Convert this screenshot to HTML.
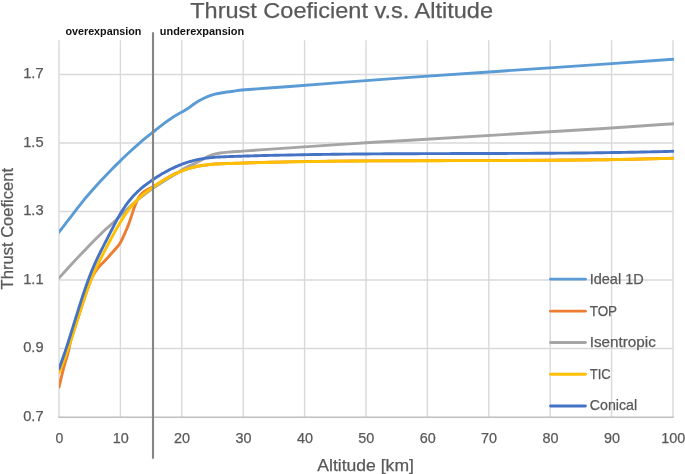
<!DOCTYPE html>
<html><head><meta charset="utf-8"><title>Thrust Coeficient v.s. Altitude</title>
<style>
html,body{margin:0;padding:0;background:#fff;width:685px;height:474px;overflow:hidden}
svg{display:block}
.g{stroke:#d9d9d9;stroke-width:1.4;fill:none}
.ax{stroke:#bebebe;stroke-width:1.5;fill:none}
.s{fill:none;stroke-width:2.9;stroke-linecap:round;stroke-linejoin:round}
text{font-family:"Liberation Sans",Arial,sans-serif;fill:#595959;stroke:#595959;stroke-width:0.25px}
.t{font-size:15px}
.lg{font-size:14.4px}
.ttl{font-size:22.9px}
.at{font-size:16.6px}
.lb{font-size:11.6px;font-weight:bold;fill:#111;stroke:none}
</style></head><body>
<svg width="685" height="474" viewBox="0 0 685 474">
<defs><clipPath id="pc"><rect x="59" y="0" width="615" height="474"/></clipPath></defs>
<rect width="685" height="474" fill="#fff"/>
<g><line x1="59.00" y1="40.2" x2="59.00" y2="417" class="g"/>
<line x1="120.40" y1="40.2" x2="120.40" y2="417" class="g"/>
<line x1="181.80" y1="40.2" x2="181.80" y2="417" class="g"/>
<line x1="243.20" y1="40.2" x2="243.20" y2="417" class="g"/>
<line x1="304.60" y1="40.2" x2="304.60" y2="417" class="g"/>
<line x1="366.00" y1="40.2" x2="366.00" y2="417" class="g"/>
<line x1="427.40" y1="40.2" x2="427.40" y2="417" class="g"/>
<line x1="488.80" y1="40.2" x2="488.80" y2="417" class="g"/>
<line x1="550.20" y1="40.2" x2="550.20" y2="417" class="g"/>
<line x1="611.60" y1="40.2" x2="611.60" y2="417" class="g"/>
<line x1="673.00" y1="40.2" x2="673.00" y2="417" class="g"/>
<line x1="59" y1="348.50" x2="673" y2="348.50" class="g"/>
<line x1="59" y1="280.00" x2="673" y2="280.00" class="g"/>
<line x1="59" y1="211.50" x2="673" y2="211.50" class="g"/>
<line x1="59" y1="143.00" x2="673" y2="143.00" class="g"/>
<line x1="59" y1="74.50" x2="673" y2="74.50" class="g"/>
<line x1="58.3" y1="417.15" x2="673.7" y2="417.15" class="ax"/></g>
<g><path d="M59.00,232.00 C60.08,230.62 62.83,227.13 65.50,223.70 C68.17,220.27 71.88,215.42 75.00,211.40 C78.12,207.38 81.62,202.78 84.20,199.60 C86.78,196.42 87.68,195.47 90.50,192.30 C93.32,189.13 97.58,184.40 101.10,180.60 C104.62,176.80 108.43,172.75 111.60,169.50 C114.77,166.25 117.28,163.85 120.10,161.10 C122.92,158.35 125.22,156.05 128.50,153.00 C131.78,149.95 136.68,145.52 139.80,142.80 C142.92,140.08 145.00,138.47 147.20,136.70 C149.40,134.93 151.30,133.53 153.00,132.20 C154.70,130.87 155.43,130.25 157.40,128.70 C159.37,127.15 162.33,124.73 164.80,122.90 C167.27,121.07 169.75,119.30 172.20,117.70 C174.65,116.10 177.90,114.23 179.50,113.30 C181.10,112.37 180.87,112.62 181.80,112.10 C182.73,111.58 183.82,110.98 185.10,110.20 C186.38,109.42 188.02,108.43 189.50,107.40 C190.98,106.37 192.25,105.18 194.00,104.00 C195.75,102.82 197.55,101.60 200.00,100.30 C202.45,99.00 206.20,97.22 208.70,96.20 C211.20,95.18 212.72,94.77 215.00,94.20 C217.28,93.63 219.40,93.28 222.40,92.80 C225.40,92.32 229.23,91.80 233.00,91.30 C236.77,90.80 235.50,90.60 245.00,89.80 C254.50,89.00 275.83,87.57 290.00,86.50 C304.17,85.43 317.33,84.38 330.00,83.40 C342.67,82.42 352.67,81.60 366.00,80.60 C379.33,79.60 387.67,78.97 410.00,77.40 C432.33,75.83 466.40,73.50 500.00,71.20 C533.60,68.90 582.77,65.58 611.60,63.60 C640.43,61.62 662.77,60.02 673.00,59.30" stroke="#5B9BD5" class="s" clip-path="url(#pc)"/>
<path d="M59.00,387.20 C59.50,385.08 61.07,378.28 62.00,374.50 C62.93,370.72 63.67,367.83 64.60,364.50 C65.53,361.17 66.53,358.59 67.60,354.50 C68.67,350.41 69.93,343.97 71.00,339.99 C72.07,336.01 73.00,333.78 74.00,330.64 C75.00,327.50 76.00,324.31 77.00,321.16 C78.00,318.00 79.00,314.82 80.00,311.70 C81.00,308.58 82.00,305.47 83.00,302.45 C84.00,299.42 85.00,296.43 86.00,293.56 C87.00,290.68 88.00,287.87 89.00,285.20 C90.00,282.53 90.57,280.34 92.00,277.54 C93.43,274.74 95.92,270.72 97.60,268.40 C99.28,266.08 100.70,265.08 102.10,263.60 C103.50,262.12 104.70,260.90 106.00,259.50 C107.30,258.10 108.52,256.73 109.90,255.20 C111.28,253.67 112.93,251.85 114.30,250.30 C115.67,248.75 117.03,247.27 118.10,245.90 C119.17,244.53 119.85,243.58 120.70,242.10 C121.55,240.62 122.42,238.68 123.20,237.00 C123.98,235.32 124.67,233.68 125.40,232.00 C126.13,230.32 126.90,228.65 127.60,226.90 C128.30,225.15 128.97,223.27 129.60,221.50 C130.23,219.73 130.67,218.50 131.40,216.30 C132.13,214.10 133.18,210.62 134.00,208.30 C134.82,205.98 135.55,204.15 136.30,202.40 C137.05,200.65 137.52,199.32 138.50,197.80 C139.48,196.28 140.97,194.52 142.20,193.30 C143.43,192.08 144.60,191.33 145.90,190.50 C147.20,189.67 148.82,188.88 150.00,188.30 C151.18,187.72 152.00,187.60 153.00,187.05 C154.00,186.50 154.83,185.78 156.00,185.00 C157.17,184.22 158.50,183.33 160.00,182.38 C161.50,181.43 163.33,180.29 165.00,179.30 C166.67,178.31 168.17,177.44 170.00,176.46 C171.83,175.48 174.00,174.35 176.00,173.41 C178.00,172.46 179.67,171.68 182.00,170.78 C184.33,169.89 187.00,168.86 190.00,168.02 C193.00,167.18 196.67,166.33 200.00,165.74 C203.33,165.14 206.67,164.78 210.00,164.45 C213.33,164.13 215.83,164.00 220.00,163.80 C224.17,163.60 230.00,163.42 235.00,163.25 C240.00,163.08 244.17,162.94 250.00,162.78 C255.83,162.61 261.67,162.44 270.00,162.25 C278.33,162.05 286.67,161.84 300.00,161.63 C313.33,161.41 333.33,161.14 350.00,160.98 C366.67,160.82 375.00,160.76 400.00,160.68 C425.00,160.60 466.67,160.64 500.00,160.48 C533.33,160.32 571.17,160.13 600.00,159.74 C628.83,159.35 660.83,158.39 673.00,158.12" stroke="#ED7D31" class="s" clip-path="url(#pc)"/>
<path d="M59.00,278.10 C60.93,275.97 66.92,269.30 70.60,265.30 C74.28,261.30 77.58,257.80 81.10,254.10 C84.62,250.40 88.55,246.32 91.70,243.10 C94.85,239.88 97.53,237.23 100.00,234.80 C102.47,232.37 104.23,230.58 106.50,228.50 C108.77,226.42 110.52,225.18 113.60,222.30 C116.68,219.42 121.43,214.58 125.00,211.20 C128.57,207.82 131.67,204.87 135.00,202.00 C138.33,199.13 142.00,196.28 145.00,194.00 C148.00,191.72 149.67,190.53 153.00,188.30 C156.33,186.07 161.33,182.88 165.00,180.60 C168.67,178.32 172.25,176.33 175.00,174.60 C177.75,172.87 179.33,171.53 181.50,170.20 C183.67,168.87 185.82,167.70 188.00,166.60 C190.18,165.50 192.60,164.57 194.60,163.60 C196.60,162.63 198.28,161.72 200.00,160.80 C201.72,159.88 202.92,159.10 204.90,158.10 C206.88,157.10 209.37,155.65 211.90,154.80 C214.43,153.95 217.08,153.47 220.10,153.00 C223.12,152.53 226.17,152.32 230.00,152.00 C233.83,151.68 238.10,151.45 243.10,151.10 C248.10,150.75 245.52,150.90 260.00,149.90 C274.48,148.90 312.33,146.28 330.00,145.10 C347.67,143.92 352.67,143.62 366.00,142.80 C379.33,141.98 371.00,142.55 410.00,140.20 C449.00,137.85 556.17,131.45 600.00,128.70 C643.83,125.95 660.83,124.53 673.00,123.70" stroke="#A5A5A5" class="s" clip-path="url(#pc)"/>
<path d="M59.00,372.50 C59.25,371.92 60.00,370.24 60.50,369.05 C61.00,367.86 61.50,366.64 62.00,365.38 C62.50,364.12 63.00,362.83 63.50,361.51 C64.00,360.18 64.50,358.83 65.00,357.45 C65.50,356.07 66.00,354.66 66.50,353.24 C67.00,351.81 67.50,350.35 68.00,348.88 C68.50,347.41 69.00,345.92 69.50,344.41 C70.00,342.90 70.50,341.38 71.00,339.84 C71.50,338.30 72.00,336.75 72.50,335.19 C73.00,333.64 73.50,332.06 74.00,330.49 C74.50,328.92 75.00,327.34 75.50,325.76 C76.00,324.18 76.50,322.59 77.00,321.01 C77.50,319.42 78.00,317.84 78.50,316.26 C79.00,314.69 79.50,313.11 80.00,311.55 C80.50,309.99 81.00,308.43 81.50,306.89 C82.00,305.35 82.50,303.81 83.00,302.30 C83.50,300.78 84.00,299.28 84.50,297.80 C85.00,296.31 85.50,294.85 86.00,293.41 C86.50,291.97 87.00,290.54 87.50,289.15 C88.00,287.76 88.50,286.39 89.00,285.05 C89.50,283.71 90.00,282.40 90.50,281.13 C91.00,279.85 91.50,278.61 92.00,277.39 C92.50,276.18 93.00,275.00 93.50,273.84 C94.00,272.68 94.50,271.55 95.00,270.43 C95.50,269.32 96.00,268.24 96.50,267.17 C97.00,266.10 97.50,265.05 98.00,264.02 C98.50,262.99 99.00,261.97 99.50,260.97 C100.00,259.96 100.50,258.98 101.00,257.99 C101.50,257.01 102.00,256.04 102.50,255.07 C103.00,254.10 103.50,253.15 104.00,252.19 C104.50,251.23 105.00,250.27 105.50,249.32 C106.00,248.36 106.50,247.40 107.00,246.45 C107.50,245.50 108.00,244.54 108.50,243.59 C109.00,242.64 109.50,241.69 110.00,240.75 C110.50,239.80 111.00,238.86 111.50,237.92 C112.00,236.99 112.50,236.06 113.00,235.13 C113.50,234.21 114.00,233.29 114.50,232.38 C115.00,231.47 115.50,230.57 116.00,229.67 C116.50,228.78 117.00,227.89 117.50,227.02 C118.00,226.15 118.50,225.28 119.00,224.43 C119.50,223.58 120.00,222.74 120.50,221.91 C121.00,221.08 121.50,220.26 122.00,219.46 C122.50,218.66 123.00,217.88 123.50,217.11 C124.00,216.34 124.50,215.58 125.00,214.84 C125.50,214.11 126.00,213.38 126.50,212.68 C127.00,211.98 127.50,211.29 128.00,210.62 C128.50,209.95 129.00,209.30 129.50,208.66 C130.00,208.03 130.50,207.40 131.00,206.80 C131.50,206.19 132.00,205.60 132.50,205.02 C133.00,204.45 133.50,203.88 134.00,203.33 C134.50,202.78 135.00,202.25 135.50,201.72 C136.00,201.20 136.50,200.69 137.00,200.19 C137.50,199.69 138.00,199.20 138.50,198.72 C139.00,198.25 139.50,197.78 140.00,197.32 C140.50,196.87 141.00,196.42 141.50,195.98 C142.00,195.54 142.50,195.12 143.00,194.69 C143.50,194.27 144.00,193.86 144.50,193.46 C145.00,193.05 145.50,192.66 146.00,192.27 C146.50,191.88 147.00,191.49 147.50,191.11 C148.00,190.73 148.50,190.36 149.00,190.00 C149.50,189.63 150.00,189.27 150.50,188.91 C151.00,188.55 151.50,188.20 152.00,187.84 C152.50,187.49 153.00,187.15 153.50,186.80 C154.00,186.46 154.50,186.11 155.00,185.77 C155.50,185.43 156.00,185.10 156.50,184.76 C157.00,184.43 157.50,184.10 158.00,183.77 C158.50,183.44 159.00,183.12 159.50,182.80 C160.00,182.48 160.50,182.16 161.00,181.84 C161.50,181.53 162.00,181.22 162.50,180.91 C163.00,180.60 163.50,180.30 164.00,180.00 C164.50,179.69 165.00,179.40 165.50,179.10 C166.00,178.81 166.50,178.52 167.00,178.23 C167.50,177.95 168.00,177.66 168.50,177.38 C169.00,177.11 169.50,176.83 170.00,176.56 C170.50,176.29 171.00,176.02 171.50,175.76 C172.00,175.50 172.50,175.24 173.00,174.98 C173.50,174.73 174.00,174.48 174.50,174.23 C175.00,173.99 175.50,173.74 176.00,173.51 C176.50,173.27 177.00,173.04 177.50,172.81 C178.00,172.58 178.50,172.36 179.00,172.14 C179.50,171.92 180.00,171.71 180.50,171.50 C181.00,171.29 181.50,171.08 182.00,170.88 C182.50,170.68 183.00,170.49 183.50,170.30 C184.00,170.11 184.50,169.92 185.00,169.74 C185.50,169.56 186.00,169.39 186.50,169.22 C187.00,169.05 187.50,168.89 188.00,168.73 C188.50,168.57 189.00,168.42 189.50,168.27 C190.00,168.12 190.50,167.98 191.00,167.84 C191.50,167.70 192.00,167.57 192.50,167.44 C193.00,167.31 193.50,167.18 194.00,167.07 C194.50,166.95 195.00,166.83 195.50,166.72 C196.00,166.61 196.50,166.50 197.00,166.40 C197.50,166.30 198.00,166.20 198.50,166.11 C199.00,166.02 199.50,165.93 200.00,165.84 C200.50,165.75 201.00,165.67 201.50,165.59 C202.00,165.51 202.50,165.44 203.00,165.37 C203.50,165.29 204.00,165.22 204.50,165.16 C205.00,165.09 205.50,165.03 206.00,164.97 C206.50,164.91 207.00,164.85 207.50,164.80 C208.00,164.75 208.50,164.70 209.00,164.65 C209.50,164.60 210.00,164.55 210.50,164.51 C211.00,164.46 211.50,164.42 212.00,164.38 C212.50,164.34 213.00,164.31 213.50,164.27 C214.00,164.23 214.50,164.20 215.00,164.17 C215.50,164.14 216.00,164.11 216.50,164.08 C217.00,164.05 217.50,164.02 218.00,164.00 C218.50,163.97 219.00,163.94 219.50,163.92 C220.00,163.90 220.50,163.87 221.00,163.85 C221.50,163.83 222.00,163.81 222.50,163.79 C223.00,163.77 223.50,163.75 224.00,163.73 C224.50,163.71 225.00,163.69 225.50,163.68 C226.00,163.66 226.50,163.64 227.00,163.62 C227.50,163.60 228.00,163.59 228.50,163.57 C229.00,163.55 229.50,163.53 230.00,163.52 C230.50,163.50 231.00,163.48 231.50,163.46 C232.00,163.45 232.50,163.43 233.00,163.41 C233.50,163.40 234.00,163.38 234.50,163.36 C235.00,163.35 235.50,163.33 236.00,163.31 C236.50,163.30 237.00,163.28 237.50,163.26 C238.00,163.25 238.50,163.23 239.00,163.22 C239.50,163.20 240.00,163.18 240.50,163.17 C241.00,163.15 241.50,163.14 242.00,163.12 C242.50,163.10 243.00,163.09 243.50,163.07 C244.00,163.06 244.50,163.04 245.00,163.03 C245.50,163.01 246.00,163.00 246.50,162.98 C247.00,162.97 247.50,162.95 248.00,162.94 C248.50,162.92 249.00,162.91 249.50,162.89 C250.00,162.88 250.50,162.86 251.00,162.85 C251.50,162.83 252.00,162.82 252.50,162.81 C253.00,162.79 253.50,162.78 254.00,162.76 C254.50,162.75 255.00,162.73 255.50,162.72 C256.00,162.71 256.50,162.69 257.00,162.68 C257.50,162.67 258.00,162.65 258.50,162.64 C259.00,162.63 258.75,162.63 260.00,162.60 C261.25,162.57 264.00,162.49 266.00,162.44 C268.00,162.39 270.00,162.34 272.00,162.30 C274.00,162.25 276.00,162.20 278.00,162.16 C280.00,162.12 282.00,162.07 284.00,162.03 C286.00,161.99 288.00,161.95 290.00,161.91 C292.00,161.87 294.00,161.83 296.00,161.80 C298.00,161.76 300.00,161.72 302.00,161.69 C304.00,161.66 306.00,161.62 308.00,161.59 C310.00,161.56 312.00,161.53 314.00,161.50 C316.00,161.47 318.00,161.44 320.00,161.41 C322.00,161.39 324.00,161.36 326.00,161.34 C328.00,161.31 330.00,161.29 332.00,161.26 C334.00,161.24 336.00,161.22 338.00,161.20 C340.00,161.18 342.00,161.16 344.00,161.14 C346.00,161.12 348.00,161.10 350.00,161.08 C352.00,161.06 354.00,161.04 356.00,161.03 C358.00,161.01 360.00,161.00 362.00,160.98 C364.00,160.97 366.00,160.95 368.00,160.94 C370.00,160.93 372.00,160.91 374.00,160.90 C376.00,160.89 378.00,160.88 380.00,160.87 C382.00,160.86 384.00,160.85 386.00,160.84 C388.00,160.83 390.00,160.82 392.00,160.81 C394.00,160.80 396.00,160.80 398.00,160.79 C400.00,160.78 402.00,160.77 404.00,160.77 C406.00,160.76 408.00,160.75 410.00,160.75 C412.00,160.74 414.00,160.74 416.00,160.73 C418.00,160.73 420.00,160.72 422.00,160.72 C424.00,160.71 426.00,160.71 428.00,160.71 C430.00,160.70 432.00,160.70 434.00,160.69 C436.00,160.69 438.00,160.69 440.00,160.68 C442.00,160.68 444.00,160.68 446.00,160.67 C448.00,160.67 450.00,160.67 452.00,160.67 C454.00,160.66 456.00,160.66 458.00,160.66 C460.00,160.65 462.00,160.65 464.00,160.65 C466.00,160.65 468.00,160.64 470.00,160.64 C472.00,160.64 474.00,160.63 476.00,160.63 C478.00,160.63 480.00,160.62 482.00,160.62 C484.00,160.62 486.00,160.61 488.00,160.61 C490.00,160.60 492.00,160.60 494.00,160.60 C496.00,160.59 498.00,160.59 500.00,160.58 C502.00,160.58 504.00,160.57 506.00,160.56 C508.00,160.56 510.00,160.55 512.00,160.55 C514.00,160.54 516.00,160.53 518.00,160.53 C520.00,160.52 522.00,160.51 524.00,160.50 C526.00,160.49 528.00,160.48 530.00,160.47 C532.00,160.46 534.00,160.45 536.00,160.44 C538.00,160.43 540.00,160.42 542.00,160.41 C544.00,160.40 546.00,160.39 548.00,160.37 C550.00,160.36 552.00,160.34 554.00,160.33 C556.00,160.32 558.00,160.30 560.00,160.28 C562.00,160.27 564.00,160.25 566.00,160.23 C568.00,160.21 570.00,160.20 572.00,160.18 C574.00,160.16 576.00,160.14 578.00,160.11 C580.00,160.09 582.00,160.07 584.00,160.05 C586.00,160.02 588.00,160.00 590.00,159.98 C592.00,159.95 594.00,159.92 596.00,159.90 C598.00,159.87 600.00,159.84 602.00,159.81 C604.00,159.78 606.00,159.75 608.00,159.72 C610.00,159.69 612.00,159.65 614.00,159.62 C616.00,159.59 618.00,159.55 620.00,159.51 C622.00,159.48 624.00,159.44 626.00,159.40 C628.00,159.36 630.00,159.32 632.00,159.28 C634.00,159.24 636.00,159.19 638.00,159.15 C640.00,159.10 642.00,159.06 644.00,159.01 C646.00,158.96 648.00,158.91 650.00,158.86 C652.00,158.81 654.00,158.76 656.00,158.71 C658.00,158.66 660.00,158.60 662.00,158.54 C664.00,158.49 666.17,158.42 668.00,158.37 C669.83,158.32 672.17,158.24 673.00,158.22" stroke="#FFC000" class="s" clip-path="url(#pc)"/>
<path d="M59.00,368.69 C59.25,368.03 60.00,366.08 60.50,364.73 C61.00,363.38 61.50,362.00 62.00,360.59 C62.50,359.19 63.00,357.76 63.50,356.30 C64.00,354.85 64.50,353.38 65.00,351.88 C65.50,350.39 66.00,348.87 66.50,347.34 C67.00,345.81 67.50,344.26 68.00,342.71 C68.50,341.15 69.00,339.57 69.50,337.99 C70.00,336.41 70.50,334.81 71.00,333.21 C71.50,331.61 72.00,330.01 72.50,328.40 C73.00,326.79 73.50,325.17 74.00,323.55 C74.50,321.94 75.00,320.32 75.50,318.71 C76.00,317.10 76.50,315.48 77.00,313.88 C77.50,312.27 78.00,310.67 78.50,309.08 C79.00,307.49 79.50,305.91 80.00,304.33 C80.50,302.76 81.00,301.20 81.50,299.66 C82.00,298.12 82.50,296.58 83.00,295.07 C83.50,293.56 84.00,292.06 84.50,290.59 C85.00,289.12 85.50,287.67 86.00,286.24 C86.50,284.81 87.00,283.41 87.50,282.03 C88.00,280.66 88.50,279.31 89.00,277.99 C89.50,276.67 90.00,275.38 90.50,274.11 C91.00,272.84 91.50,271.61 92.00,270.39 C92.50,269.18 93.00,267.99 93.50,266.82 C94.00,265.65 94.50,264.51 95.00,263.38 C95.50,262.26 96.00,261.15 96.50,260.07 C97.00,258.98 97.50,257.92 98.00,256.87 C98.50,255.82 99.00,254.79 99.50,253.77 C100.00,252.76 100.50,251.76 101.00,250.77 C101.50,249.78 102.00,248.80 102.50,247.83 C103.00,246.86 103.50,245.89 104.00,244.92 C104.50,243.95 105.00,242.99 105.50,242.01 C106.00,241.04 106.50,240.06 107.00,239.07 C107.50,238.09 108.00,237.10 108.50,236.12 C109.00,235.13 109.50,234.15 110.00,233.16 C110.50,232.18 111.00,231.19 111.50,230.22 C112.00,229.24 112.50,228.26 113.00,227.30 C113.50,226.33 114.00,225.37 114.50,224.42 C115.00,223.47 115.50,222.52 116.00,221.59 C116.50,220.66 117.00,219.74 117.50,218.84 C118.00,217.93 118.50,217.04 119.00,216.16 C119.50,215.29 120.00,214.43 120.50,213.59 C121.00,212.75 121.50,211.93 122.00,211.12 C122.50,210.32 123.00,209.54 123.50,208.78 C124.00,208.02 124.50,207.28 125.00,206.55 C125.50,205.83 126.00,205.12 126.50,204.43 C127.00,203.75 127.50,203.08 128.00,202.42 C128.50,201.77 129.00,201.13 129.50,200.51 C130.00,199.89 130.50,199.29 131.00,198.70 C131.50,198.11 132.00,197.53 132.50,196.97 C133.00,196.41 133.50,195.86 134.00,195.33 C134.50,194.80 135.00,194.28 135.50,193.77 C136.00,193.26 136.50,192.76 137.00,192.28 C137.50,191.80 138.00,191.32 138.50,190.86 C139.00,190.40 139.50,189.95 140.00,189.50 C140.50,189.06 141.00,188.63 141.50,188.20 C142.00,187.78 142.50,187.37 143.00,186.96 C143.50,186.55 144.00,186.15 144.50,185.76 C145.00,185.37 145.50,184.98 146.00,184.60 C146.50,184.22 147.00,183.85 147.50,183.48 C148.00,183.11 148.50,182.75 149.00,182.39 C149.50,182.03 150.00,181.67 150.50,181.32 C151.00,180.97 151.50,180.63 152.00,180.28 C152.50,179.94 153.00,179.60 153.50,179.26 C154.00,178.93 154.50,178.59 155.00,178.26 C155.50,177.93 156.00,177.61 156.50,177.29 C157.00,176.97 157.50,176.65 158.00,176.34 C158.50,176.02 159.00,175.71 159.50,175.41 C160.00,175.10 160.50,174.80 161.00,174.50 C161.50,174.20 162.00,173.90 162.50,173.61 C163.00,173.32 163.50,173.04 164.00,172.75 C164.50,172.47 165.00,172.19 165.50,171.91 C166.00,171.64 166.50,171.37 167.00,171.10 C167.50,170.83 168.00,170.57 168.50,170.30 C169.00,170.04 169.50,169.79 170.00,169.53 C170.50,169.28 171.00,169.03 171.50,168.79 C172.00,168.54 172.50,168.30 173.00,168.07 C173.50,167.83 174.00,167.60 174.50,167.37 C175.00,167.14 175.50,166.91 176.00,166.69 C176.50,166.47 177.00,166.25 177.50,166.04 C178.00,165.82 178.50,165.61 179.00,165.41 C179.50,165.20 180.00,165.00 180.50,164.80 C181.00,164.61 181.50,164.41 182.00,164.22 C182.50,164.03 183.00,163.85 183.50,163.66 C184.00,163.48 184.50,163.30 185.00,163.13 C185.50,162.96 186.00,162.79 186.50,162.62 C187.00,162.46 187.50,162.29 188.00,162.14 C188.50,161.98 189.00,161.82 189.50,161.67 C190.00,161.52 190.50,161.38 191.00,161.24 C191.50,161.10 192.00,160.96 192.50,160.83 C193.00,160.69 193.50,160.56 194.00,160.44 C194.50,160.31 195.00,160.19 195.50,160.07 C196.00,159.96 196.50,159.84 197.00,159.73 C197.50,159.63 198.00,159.52 198.50,159.42 C199.00,159.32 199.50,159.22 200.00,159.13 C200.50,159.04 201.00,158.95 201.50,158.86 C202.00,158.77 202.50,158.69 203.00,158.61 C203.50,158.53 204.00,158.46 204.50,158.39 C205.00,158.31 205.50,158.24 206.00,158.18 C206.50,158.11 207.00,158.05 207.50,157.99 C208.00,157.93 208.50,157.87 209.00,157.81 C209.50,157.76 210.00,157.71 210.50,157.65 C211.00,157.60 211.50,157.56 212.00,157.51 C212.50,157.47 213.00,157.42 213.50,157.38 C214.00,157.34 214.50,157.30 215.00,157.27 C215.50,157.23 216.00,157.19 216.50,157.16 C217.00,157.13 217.50,157.10 218.00,157.06 C218.50,157.03 219.00,157.01 219.50,156.98 C220.00,156.95 220.50,156.93 221.00,156.90 C221.50,156.88 222.00,156.85 222.50,156.83 C223.00,156.81 223.50,156.79 224.00,156.77 C224.50,156.75 225.00,156.73 225.50,156.71 C226.00,156.69 226.50,156.67 227.00,156.65 C227.50,156.63 228.00,156.62 228.50,156.60 C229.00,156.58 229.50,156.56 230.00,156.55 C230.50,156.53 231.00,156.51 231.50,156.50 C232.00,156.48 232.50,156.46 233.00,156.45 C233.50,156.43 234.00,156.41 234.50,156.40 C235.00,156.38 235.50,156.36 236.00,156.35 C236.50,156.33 237.00,156.32 237.50,156.30 C238.00,156.28 238.50,156.27 239.00,156.25 C239.50,156.24 240.00,156.22 240.50,156.21 C241.00,156.19 241.50,156.18 242.00,156.16 C242.50,156.14 243.00,156.13 243.50,156.11 C244.00,156.10 244.50,156.08 245.00,156.07 C245.50,156.05 246.00,156.04 246.50,156.02 C247.00,156.01 247.50,156.00 248.00,155.98 C248.50,155.97 249.00,155.95 249.50,155.94 C250.00,155.92 250.50,155.91 251.00,155.89 C251.50,155.88 252.00,155.87 252.50,155.85 C253.00,155.84 253.50,155.82 254.00,155.81 C254.50,155.80 255.00,155.78 255.50,155.77 C256.00,155.75 256.50,155.74 257.00,155.73 C257.50,155.71 258.00,155.70 258.50,155.69 C259.00,155.67 258.75,155.68 260.00,155.65 C261.25,155.62 264.00,155.54 266.00,155.49 C268.00,155.44 270.00,155.40 272.00,155.35 C274.00,155.30 276.00,155.26 278.00,155.21 C280.00,155.17 282.00,155.12 284.00,155.08 C286.00,155.04 288.00,155.00 290.00,154.96 C292.00,154.92 294.00,154.88 296.00,154.85 C298.00,154.81 300.00,154.77 302.00,154.74 C304.00,154.70 306.00,154.67 308.00,154.64 C310.00,154.60 312.00,154.57 314.00,154.54 C316.00,154.51 318.00,154.48 320.00,154.45 C322.00,154.42 324.00,154.40 326.00,154.37 C328.00,154.34 330.00,154.32 332.00,154.29 C334.00,154.27 336.00,154.24 338.00,154.22 C340.00,154.20 342.00,154.18 344.00,154.16 C346.00,154.13 348.00,154.11 350.00,154.09 C352.00,154.07 354.00,154.06 356.00,154.04 C358.00,154.02 360.00,154.00 362.00,153.99 C364.00,153.97 366.00,153.95 368.00,153.94 C370.00,153.92 372.00,153.91 374.00,153.89 C376.00,153.88 378.00,153.87 380.00,153.85 C382.00,153.84 384.00,153.83 386.00,153.82 C388.00,153.80 390.00,153.79 392.00,153.78 C394.00,153.77 396.00,153.76 398.00,153.75 C400.00,153.74 402.00,153.73 404.00,153.73 C406.00,153.72 408.00,153.71 410.00,153.70 C412.00,153.69 414.00,153.68 416.00,153.68 C418.00,153.67 420.00,153.66 422.00,153.66 C424.00,153.65 426.00,153.64 428.00,153.64 C430.00,153.63 432.00,153.62 434.00,153.62 C436.00,153.61 438.00,153.61 440.00,153.60 C442.00,153.60 444.00,153.59 446.00,153.59 C448.00,153.58 450.00,153.58 452.00,153.57 C454.00,153.57 456.00,153.56 458.00,153.56 C460.00,153.55 462.00,153.55 464.00,153.54 C466.00,153.54 468.00,153.53 470.00,153.53 C472.00,153.53 474.00,153.52 476.00,153.52 C478.00,153.51 480.00,153.51 482.00,153.50 C484.00,153.50 486.00,153.49 488.00,153.49 C490.00,153.48 492.00,153.47 494.00,153.47 C496.00,153.46 498.00,153.46 500.00,153.45 C502.00,153.45 504.00,153.44 506.00,153.43 C508.00,153.43 510.00,153.42 512.00,153.41 C514.00,153.40 516.00,153.40 518.00,153.39 C520.00,153.38 522.00,153.37 524.00,153.36 C526.00,153.35 528.00,153.35 530.00,153.34 C532.00,153.33 534.00,153.32 536.00,153.31 C538.00,153.30 540.00,153.28 542.00,153.27 C544.00,153.26 546.00,153.25 548.00,153.24 C550.00,153.22 552.00,153.21 554.00,153.20 C556.00,153.18 558.00,153.17 560.00,153.15 C562.00,153.14 564.00,153.12 566.00,153.11 C568.00,153.09 570.00,153.07 572.00,153.05 C574.00,153.04 576.00,153.02 578.00,153.00 C580.00,152.98 582.00,152.96 584.00,152.94 C586.00,152.91 588.00,152.89 590.00,152.87 C592.00,152.85 594.00,152.82 596.00,152.80 C598.00,152.77 600.00,152.75 602.00,152.72 C604.00,152.70 606.00,152.67 608.00,152.64 C610.00,152.61 612.00,152.58 614.00,152.55 C616.00,152.52 618.00,152.49 620.00,152.46 C622.00,152.43 624.00,152.39 626.00,152.36 C628.00,152.32 630.00,152.29 632.00,152.25 C634.00,152.21 636.00,152.17 638.00,152.13 C640.00,152.10 642.00,152.05 644.00,152.01 C646.00,151.97 648.00,151.93 650.00,151.88 C652.00,151.84 654.00,151.79 656.00,151.75 C658.00,151.70 660.00,151.65 662.00,151.60 C664.00,151.55 666.17,151.50 668.00,151.45 C669.83,151.40 672.17,151.34 673.00,151.32" stroke="#4472C4" class="s" clip-path="url(#pc)"/></g>
<line x1="153" y1="32.2" x2="153" y2="458.8" stroke="#858585" stroke-width="2.1"/>
<text x="190.2" y="17.5" class="ttl" textLength="302.8" lengthAdjust="spacingAndGlyphs">Thrust Coeficient v.s. Altitude</text>
<text x="65.4" y="35.2" class="lb" textLength="76" lengthAdjust="spacingAndGlyphs">overexpansion</text>
<text x="159.8" y="35.2" class="lb" textLength="84.4" lengthAdjust="spacingAndGlyphs">underexpansion</text>
<g><text x="43.6" y="420.90" text-anchor="end" class="t" textLength="20.4" lengthAdjust="spacingAndGlyphs">0.7</text>
<text x="43.6" y="352.40" text-anchor="end" class="t" textLength="20.4" lengthAdjust="spacingAndGlyphs">0.9</text>
<text x="43.6" y="283.90" text-anchor="end" class="t" textLength="20.4" lengthAdjust="spacingAndGlyphs">1.1</text>
<text x="43.6" y="215.40" text-anchor="end" class="t" textLength="20.4" lengthAdjust="spacingAndGlyphs">1.3</text>
<text x="43.6" y="146.90" text-anchor="end" class="t" textLength="20.4" lengthAdjust="spacingAndGlyphs">1.5</text>
<text x="43.6" y="78.40" text-anchor="end" class="t" textLength="20.4" lengthAdjust="spacingAndGlyphs">1.7</text></g>
<g><text x="59.30" y="443.4" text-anchor="middle" class="t" textLength="7.8" lengthAdjust="spacingAndGlyphs">0</text>
<text x="120.70" y="443.4" text-anchor="middle" class="t" textLength="16.0" lengthAdjust="spacingAndGlyphs">10</text>
<text x="182.10" y="443.4" text-anchor="middle" class="t" textLength="16.0" lengthAdjust="spacingAndGlyphs">20</text>
<text x="243.50" y="443.4" text-anchor="middle" class="t" textLength="16.0" lengthAdjust="spacingAndGlyphs">30</text>
<text x="304.90" y="443.4" text-anchor="middle" class="t" textLength="16.0" lengthAdjust="spacingAndGlyphs">40</text>
<text x="366.30" y="443.4" text-anchor="middle" class="t" textLength="16.0" lengthAdjust="spacingAndGlyphs">50</text>
<text x="427.70" y="443.4" text-anchor="middle" class="t" textLength="16.0" lengthAdjust="spacingAndGlyphs">60</text>
<text x="489.10" y="443.4" text-anchor="middle" class="t" textLength="16.0" lengthAdjust="spacingAndGlyphs">70</text>
<text x="550.50" y="443.4" text-anchor="middle" class="t" textLength="16.0" lengthAdjust="spacingAndGlyphs">80</text>
<text x="611.90" y="443.4" text-anchor="middle" class="t" textLength="16.0" lengthAdjust="spacingAndGlyphs">90</text>
<text x="673.30" y="443.4" text-anchor="middle" class="t" textLength="24.0" lengthAdjust="spacingAndGlyphs">100</text></g>
<text x="317.3" y="470.9" class="at" textLength="96.6" lengthAdjust="spacingAndGlyphs">Altitude [km]</text>
<text transform="translate(13.3,289.4) rotate(-90)" x="0" y="0" class="at" textLength="121.5" lengthAdjust="spacingAndGlyphs">Thrust Coeficent</text>
<g><line x1="550.6" y1="279.15" x2="585.4" y2="279.15" stroke="#5B9BD5" class="s"/>
<text x="589.7" y="283.50" class="lg" textLength="54.0" lengthAdjust="spacingAndGlyphs">Ideal 1D</text>
<line x1="550.6" y1="311.15" x2="585.4" y2="311.15" stroke="#ED7D31" class="s"/>
<text x="589.7" y="315.50" class="lg" textLength="27.4" lengthAdjust="spacingAndGlyphs">TOP</text>
<line x1="550.6" y1="342.55" x2="585.4" y2="342.55" stroke="#A5A5A5" class="s"/>
<text x="589.7" y="346.90" class="lg" textLength="66.2" lengthAdjust="spacingAndGlyphs">Isentropic</text>
<line x1="550.6" y1="374.25" x2="585.4" y2="374.25" stroke="#FFC000" class="s"/>
<text x="589.7" y="378.60" class="lg" textLength="21.1" lengthAdjust="spacingAndGlyphs">TIC</text>
<line x1="550.6" y1="406.05" x2="585.4" y2="406.05" stroke="#4472C4" class="s"/>
<text x="589.7" y="410.40" class="lg" textLength="47.5" lengthAdjust="spacingAndGlyphs">Conical</text></g>
</svg>
</body></html>
